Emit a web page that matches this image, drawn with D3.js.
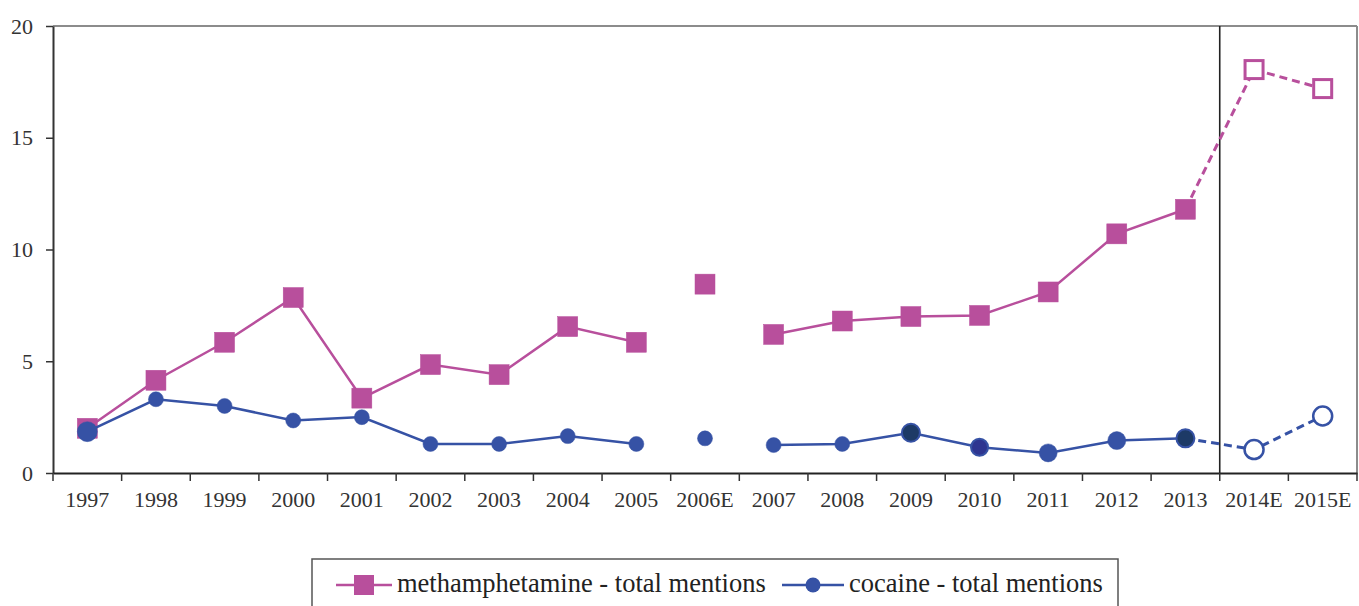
<!DOCTYPE html>
<html>
<head>
<meta charset="utf-8">
<script src="https://cdn.jsdelivr.net/npm/d3@7"></script>
<style>
body{margin:0;background:#fff;}
</style>
</head>
<body>
<div id="chart"></div>
<script>
// data
const years = ["1997","1998","1999","2000","2001","2002","2003","2004","2005","2006E","2007","2008","2009","2010","2011","2012","2013","2014E","2015E"];
const meth = [2.0,4.15,5.85,7.85,3.35,4.85,4.4,6.55,5.85,8.45,6.2,6.8,7.0,7.05,8.1,10.7,11.8,18.05,17.2];
const cocaine = [1.85,3.3,3.0,2.35,2.5,1.3,1.3,1.65,1.3,1.55,1.25,1.3,1.8,1.15,0.9,1.45,1.55,1.05,2.55];
const yTicks = [0,5,10,15,20];

// which points are joined
const solidRuns = [["1997","2005"],["2007","2013"]];
const dashedRun = ["2013","2015E"];
const estimated = ["2014E","2015E"];

const font = "'Liberation Serif', 'DejaVu Serif', serif";

const width = 1359, height = 606;
const margin = {top:26, right:2, bottom:133, left:53};

const svg = d3.select("#chart").append("svg")
	.attr("width", width)
	.attr("height", height);

const x = d3.scaleBand()
	.domain(years)
	.range([margin.left, width - margin.right]);

const y = d3.scaleLinear()
	.domain([0,20])
	.range([height - margin.bottom, margin.top]);

const cx = d => x(d) + x.bandwidth()/2;

//frame top / right
svg.append("line")
	.attr("x1", margin.left).attr("x2", width - margin.right)
	.attr("y1", y(20)).attr("y2", y(20))
	.attr("stroke", "#8c8c8c").attr("stroke-width", 2);
svg.append("line")
	.attr("x1", width - margin.right).attr("x2", width - margin.right)
	.attr("y1", y(20)).attr("y2", y(0))
	.attr("stroke", "#8c8c8c").attr("stroke-width", 2);

//y axis
const yAxis = svg.append("g")
	.attr("transform", `translate(${margin.left},0)`)
	.call(d3.axisLeft(y).tickValues(yTicks).tickSize(7).tickPadding(13).tickSizeOuter(0));
yAxis.attr("font-family", null);
yAxis.select(".domain").attr("stroke", "#333").attr("stroke-width", 2);
yAxis.selectAll(".tick line").attr("stroke", "#333").attr("stroke-width", 1.5);
yAxis.selectAll("text")
	.style("font-family", font)
	.style("font-size", "22px")
	.attr("fill", "#333");

//x axis
const xAxis = svg.append("g")
	.attr("transform", `translate(0,${y(0)})`)
	.call(d3.axisBottom(x).tickSize(0).tickPadding(18));
xAxis.attr("font-family", null);
xAxis.select(".domain").attr("stroke", "#222").attr("stroke-width", 2);
xAxis.selectAll(".tick line").remove();
xAxis.selectAll("text")
	.style("font-family", font)
	.style("font-size", "22px")
	.attr("fill", "#333");

//boundary ticks
svg.append("g").selectAll("line")
	.data(years.concat(["end"]))
	.join("line")
	.attr("x1", (d,i) => i < years.length ? x(d) : width - margin.right)
	.attr("x2", (d,i) => i < years.length ? x(d) : width - margin.right)
	.attr("y1", y(0)).attr("y2", y(0) + 8)
	.attr("stroke", "#333").attr("stroke-width", 1.5);

//estimate separator
svg.append("line")
	.attr("x1", x("2014E")).attr("x2", x("2014E"))
	.attr("y1", y(20)).attr("y2", y(0))
	.attr("stroke", "#222").attr("stroke-width", 1.6);

const series = [
	{name:"methamphetamine - total mentions", values:meth, color:"#b84f9c", shape:"square"},
	{name:"cocaine - total mentions", values:cocaine, color:"#3652a5", shape:"circle"}
];

const line = d3.line()
	.x(d => cx(d.year))
	.y(d => y(d.v));

function run(s, a, b){
	const i0 = years.indexOf(a), i1 = years.indexOf(b);
	return years.slice(i0, i1+1).map((yr,k) => ({year:yr, v:s.values[i0+k]}));
}

series.forEach(s => {
	let g = svg.append("g");
	solidRuns.forEach(r => {
		g.append("path")
			.datum(run(s, r[0], r[1]))
			.attr("d", line)
			.attr("fill", "none")
			.attr("stroke", s.color)
			.attr("stroke-width", 2.5);
	});
	g.append("path")
		.datum(run(s, dashedRun[0], dashedRun[1]))
		.attr("d", line)
		.attr("fill", "none")
		.attr("stroke", s.color)
		.attr("stroke-width", 3)
		.attr("stroke-dasharray", "8,5");

	const pts = years.map((yr,i) => ({year:yr, v:s.values[i], est:estimated.includes(yr)}));

	if (s.shape === "square"){
		g.selectAll("rect")
			.data(pts)
			.join("rect")
			.attr("x", d => cx(d.year) - (d.est ? 9 : 10))
			.attr("y", d => y(d.v) - (d.est ? 9 : 10))
			.attr("width", d => d.est ? 18 : 20)
			.attr("height", d => d.est ? 18 : 20)
			.attr("fill", d => d.est ? "#fff" : s.color)
			.attr("stroke", s.color)
			.attr("stroke-width", d => d.est ? 3 : 0.5);
	} else {
		//a few markers are drawn larger / darker in the source
		const big = {"1997":10, "2009":9, "2010":8.5, "2011":9, "2012":9, "2013":9};
		const dark = {"2009":"#1d3a66", "2010":"#2e3590", "2013":"#1d3a66"};
		g.selectAll("circle")
			.data(pts)
			.join("circle")
			.attr("cx", d => cx(d.year))
			.attr("cy", d => y(d.v))
			.attr("r", d => d.est ? 9.5 : (big[d.year] || 7.5))
			.attr("fill", d => d.est ? "#fff" : (dark[d.year] || s.color))
			.attr("stroke", s.color)
			.attr("stroke-width", d => d.est ? 2.5 : (dark[d.year] ? 2 : 0.5));
	}
});

//legend
const legend = svg.append("g");
legend.append("rect")
	.attr("x", 312).attr("y", 559)
	.attr("width", 806).attr("height", 80)
	.attr("fill", "#fff")
	.attr("stroke", "#555").attr("stroke-width", 1.5);

const lx = [336, 782];
const lineLen = [56, 62];
series.forEach((s,i) => {
	let g = legend.append("g").attr("transform", `translate(${lx[i]},585)`);
	g.append("line")
		.attr("x1", 0).attr("x2", lineLen[i])
		.attr("stroke", s.color).attr("stroke-width", 2.5);
	if (s.shape === "square"){
		g.append("rect").attr("x", 18).attr("y", -10).attr("width", 20).attr("height", 20).attr("fill", s.color);
	} else {
		g.append("circle").attr("cx", 31).attr("r", 7.5).attr("fill", s.color);
	}
	g.append("text")
		.attr("x", lineLen[i] + 5).attr("y", 7)
		.style("font-family", font)
		.style("font-size", "26.5px")
		.attr("fill", "#222")
		.text(s.name);
});
</script>
</body>
</html>
